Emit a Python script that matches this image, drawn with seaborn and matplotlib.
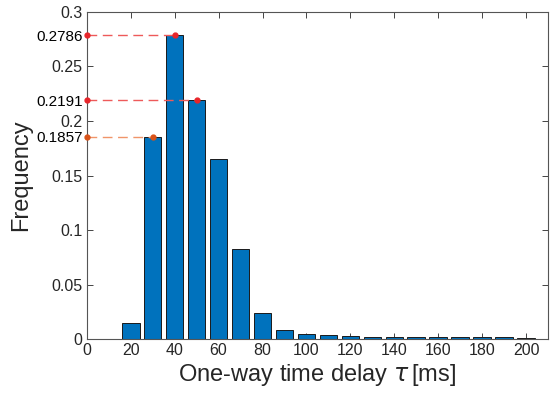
import matplotlib
matplotlib.use("Agg")
import matplotlib.pyplot as plt
import seaborn as sns
import pandas as pd

delays = [20, 30, 40, 50, 60, 70, 80, 90, 100, 110, 120, 130, 140, 150, 160, 170, 180, 190, 200]
freqs = [0.015, 0.1857, 0.2786, 0.2191, 0.165, 0.0826, 0.024, 0.0083, 0.0046, 0.0034,
         0.0024, 0.0021, 0.0021, 0.0021, 0.0021, 0.0015, 0.0016, 0.0015, 0.0007]
x_ticks = [0, 20, 40, 60, 80, 100, 120, 140, 160, 180, 200]
y_ticks = [0, 0.05, 0.1, 0.15, 0.2, 0.25, 0.3]
y_tick_labels = ["0", "0.05", "0.1", "0.15", "0.2", "0.25", "0.3"]
mark_x = [40, 50, 30]
mark_y = [0.2786, 0.2191, 0.1857]
mark_labels = ["0.2786", "0.2191", "0.1857"]
mark_colors = ["#e8252a", "#e8252a", "#d95319"]
line_colors = ["#ee5a5a", "#ee5a5a", "#f0956a"]

sns.set_theme(style="white")
plt.rcParams["font.family"] = ["Liberation Sans", "DejaVu Sans"]

df = pd.DataFrame({"delay": delays, "freq": freqs})
fig = plt.figure(figsize=(5.53, 3.98), dpi=100)
ax = fig.add_axes([0.157, 0.148, 0.834, 0.822])

sns.barplot(data=df, x="delay", y="freq", native_scale=True, color="#0072BD",
            saturation=1, edgecolor="#1a1a1a", linewidth=0.7, width=0.8, ax=ax)

for mx, my, mc, lc in zip(mark_x, mark_y, mark_colors, line_colors):
    ax.plot([0, mx], [my, my], linestyle=(0, (7, 4)), color=lc, linewidth=1.0,
            zorder=3, clip_on=False)
    ax.plot([0, mx], [my, my], linestyle="none", marker="o", markersize=3.5,
            color=mc, zorder=4, clip_on=False)

ax.set_xlim(0, 210)
ax.set_ylim(0, 0.3)
ax.set_xticks(x_ticks)
ax.set_xticklabels([str(t) for t in x_ticks])
ax.set_yticks(y_ticks)
ax.set_yticklabels(y_tick_labels)
ax.set_yticks(mark_y, minor=True)
ax.set_yticklabels(mark_labels, minor=True)

tc = "#262626"
ax.tick_params(axis="both", which="major", direction="in", length=4, width=0.6,
               top=True, right=True, left=True, bottom=True, labelsize=11.5,
               colors=tc, pad=3)
ax.tick_params(axis="y", which="minor", direction="in", length=4, width=0.6,
               left=True, right=False, labelsize=11, colors="black", pad=3)
ax.tick_params(axis="x", which="minor", bottom=False, top=False)
for s in ax.spines.values():
    s.set_color("#555555")
    s.set_linewidth(0.8)

ax.set_xlabel(r"One-way time delay $\tau\,$[ms]", fontsize=17, color=tc, labelpad=3)
ax.set_ylabel("Frequency", fontsize=17, color=tc, labelpad=3)

fig.savefig("out.png", dpi=100)
